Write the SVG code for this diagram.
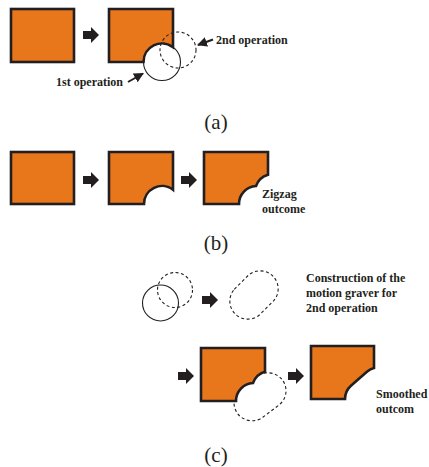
<svg xmlns="http://www.w3.org/2000/svg" width="429" height="467" viewBox="0 0 429 467">
<style>
.blk{fill:#E8771B;stroke:#231F20;stroke-width:2.6;stroke-linejoin:miter}
.sol{fill:none;stroke:#231F20;stroke-width:1.1}
.dash{fill:none;stroke:#231F20;stroke-width:1.1;stroke-dasharray:3 2.5}
.lbl{font-family:"Liberation Serif","Times New Roman",serif;font-weight:bold;font-size:12px;fill:#231F20}
.cap{font-family:"Liberation Serif","Times New Roman",serif;font-size:21px;fill:#231F20;text-anchor:middle}
.ptr{stroke:#231F20;stroke-width:2;fill:none}
</style>
<defs>
<path id="arr" d="M0,-4 H8 V-8 L16,0 L8,8 V4 H0 Z" fill="#231F20"/>
<marker id="ah" viewBox="0 0 10 10" refX="9" refY="5" markerWidth="5" markerHeight="5" orient="auto" markerUnits="strokeWidth">
<path d="M0,0 L10,5 L0,10 Z" fill="#231F20"/>
</marker>
</defs>

<g id="a-block1"><rect class="blk" x="11" y="9" width="63" height="53"/></g>
<g id="a-block2">
<path class="blk" d="M109,9 H173 V47.1 A18.5 18.5 0 0 0 143.5,62 H109 Z"/>
<circle class="sol" cx="162" cy="62" r="18.5"/>
<circle class="dash" cx="178" cy="50" r="18"/>
</g>
<g id="a-label2"><text class="lbl" x="216" y="44">2nd operation</text></g>
<g id="a-label1"><text class="lbl" x="56" y="86">1st operation</text></g>
<g id="a-caption"><text class="cap" x="216" y="129">(a)</text></g>

<g id="b-block1"><rect class="blk" x="11" y="152" width="63" height="52"/></g>
<g id="b-block2"><path class="blk" d="M109,152 H173 V189.75 A18 18 0 0 0 144,204 H109 Z"/></g>
<g id="b-block3"><path class="blk" d="M204,152 H268 V174.7 A18 18 0 0 0 256,186 A18 18 0 0 0 239,204 H204 Z"/></g>
<g id="b-label"><text class="lbl" x="262" y="198">Zigzag</text><text class="lbl" x="262" y="213">outcome</text></g>
<g id="b-caption"><text class="cap" x="216" y="250">(b)</text></g>

<g id="c-circles">
<circle class="sol" cx="160.5" cy="303" r="18"/>
<circle class="dash" cx="175" cy="290" r="17.5"/>
</g>
<g id="c-capsule"><path class="dash" d="M234.3,289.3 L248.3,275.3 A18 18 0 0 1 273.7,300.7 L259.7,314.7 A18 18 0 0 1 234.3,289.3 Z"/></g>
<g id="c-label1"><text class="lbl" x="306" y="282">Construction of the</text><text class="lbl" x="306" y="297">motion graver for</text><text class="lbl" x="306" y="312">2nd operation</text></g>

<g id="c-block1">
<path class="dash" d="M241.2,388.4 L257.2,376.4 A18 18 0 1 1 278.8,405.2 L262.8,417.2 A18 18 0 0 1 241.2,388.4 Z"/>
<path class="blk" d="M201,348 H265 V371.7 A18 18 0 0 0 253,383 A18 18 0 0 0 236,401 H201 Z"/>
</g>
<g id="c-block2"><path class="blk" d="M311,346 H374 V368 A18 18 0 0 0 367.2,371.4 L351.2,385.4 A18 18 0 0 0 345,399 H311 Z"/></g>
<g id="c-label2"><text class="lbl" x="376" y="398">Smoothed</text><text class="lbl" x="376" y="413">outcom</text></g>
<g id="c-caption"><text class="cap" x="216" y="462">(c)</text></g>

<g id="connectors">
<use href="#arr" x="83" y="35"/>
<use href="#arr" x="83" y="180"/>
<use href="#arr" x="181" y="180"/>
<use href="#arr" x="202" y="300"/>
<use href="#arr" x="178" y="376"/>
<use href="#arr" x="288" y="376"/>
<line class="ptr" x1="213" y1="39.5" x2="198" y2="45" marker-end="url(#ah)"/>
<line class="ptr" x1="128" y1="82" x2="143" y2="73.5" marker-end="url(#ah)"/>
</g>
</svg>
